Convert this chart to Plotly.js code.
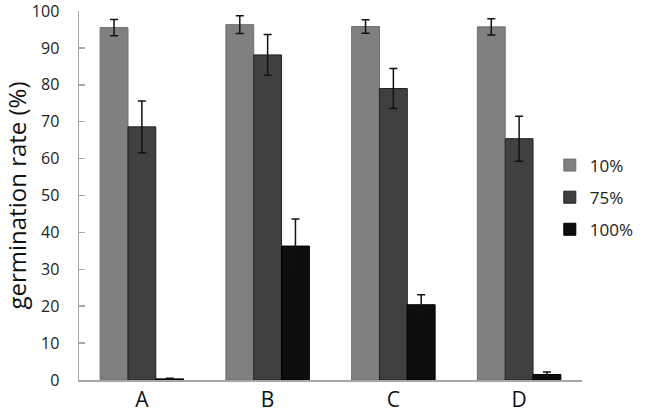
<!DOCTYPE html>
<html>
<head>
<meta charset="utf-8">
<script src="https://cdn.plot.ly/plotly-3.0.1.min.js"></script>
<style>html,body{margin:0;padding:0;background:#fff;}#chart{width:650px;height:414px;}</style>
</head>
<body>
<div id="chart"></div>
<script>
const categories = ["A", "B", "C", "D"];
const seriesNames = ["10%", "75%", "100%"];
const values10 = [95.5, 96.3, 95.8, 95.7];
const errors10 = [2.2, 2.4, 1.8, 2.2];
const values75 = [68.6, 88.1, 79.0, 65.4];
const errors75 = [7.0, 5.5, 5.4, 6.1];
const values100 = [0.3, 36.3, 20.4, 1.5];
const errors100 = [0.2, 7.3, 2.7, 0.7];
const yTicks = [0, 10, 20, 30, 40, 50, 60, 70, 80, 90, 100];

const colors = ["#808080", "#404040", "#0e0e0e"];
const lineColors = ["#6e6e6e", "#222222", "#000000"];
const vals = [values10, values75, values100];
const errs = [errors10, errors75, errors100];

const traces = seriesNames.map((name, i) => ({
  type: "bar",
  name: name,
  legendgroup: "g" + i,
  x: categories,
  y: vals[i],
  marker: {color: colors[i], line: {color: lineColors[i], width: 1}},
  error_y: {type: "data", array: errs[i], visible: true, color: "#111", thickness: 1.5, width: 4}
}));

const layout = {
  width: 650, height: 414,
  margin: {l: 79, r: 59, t: 11, b: 34},
  paper_bgcolor: "#fff", plot_bgcolor: "#fff",
  barmode: "group",
  bargap: 0.336, bargroupgap: 0,
  font: {family: "Open Sans, sans-serif", color: "#222"},
  xaxis: {
    showline: true, linecolor: "#a6a6a6", linewidth: 1.5,
    ticks: "", showgrid: false, zeroline: false,
    tickfont: {size: 21, color: "#111"},
    ticklabelstandoff: 0,
    ticklabeloverflow: "allow"
  },
  yaxis: {
    range: [0, 100], tickvals: yTicks,
    showline: true, linecolor: "#a6a6a6", linewidth: 1.5,
    ticks: "inside", ticklen: 6, tickcolor: "#a6a6a6", tickwidth: 1.5,
    showgrid: false, zeroline: false,
    tickfont: {size: 16, color: "#222"},
    ticklabelstandoff: 15,
    ticklabeloverflow: "allow",
    title: {text: "germination rate (%)", font: {size: 24, color: "#111"}, standoff: 7}
  },
  showlegend: true,
  legend: {
    x: 0.936, xanchor: "left", xref: "paper",
    y: 0.63, yanchor: "top",
    traceorder: "grouped", tracegroupgap: 7,
    font: {size: 17, color: "#222"},
    bgcolor: "rgba(0,0,0,0)"
  }
};

Plotly.newPlot("chart", traces, layout, {staticPlot: true, displayModeBar: false});
</script>
</body>
</html>
